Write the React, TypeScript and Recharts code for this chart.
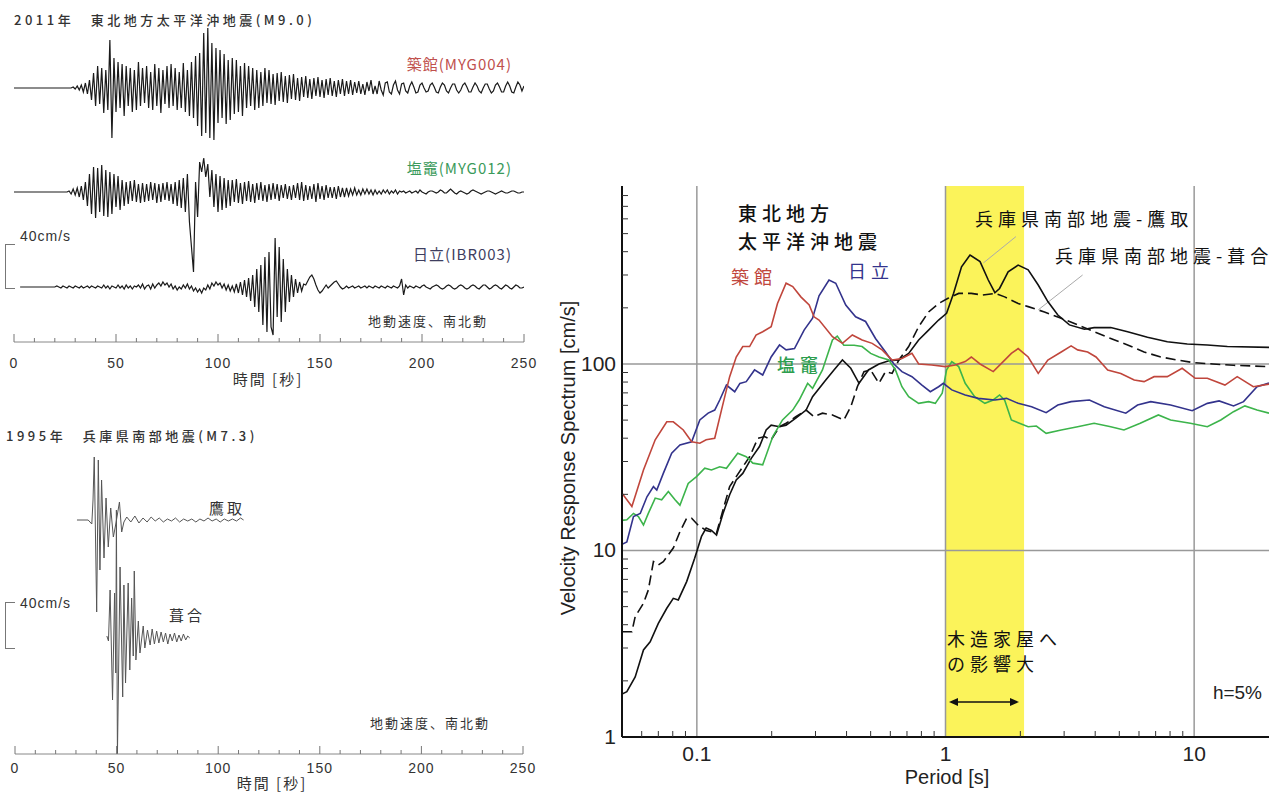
import React from 'react';
import { LineChart, Line, XAxis, YAxis, ReferenceLine, ReferenceArea } from 'recharts';

// ---------- velocity response spectra (period [s] / velocity [cm/s]) ----------
const tsukidatePeriod = [0.05, 0.0548, 0.061, 0.068, 0.0757, 0.0804, 0.0882, 0.0953, 0.1028, 0.109, 0.118, 0.1256, 0.1355, 0.144, 0.153, 0.163, 0.173, 0.184, 0.199, 0.211, 0.2285, 0.243, 0.262, 0.283, 0.296, 0.31, 0.351, 0.385, 0.422, 0.462, 0.507, 0.556, 0.61, 0.668, 0.733, 0.78, 0.881, 1.0, 1.094, 1.2, 1.27, 1.377, 1.556, 1.706, 1.84, 1.96, 2.15, 2.36, 2.58, 2.92, 3.2, 3.4, 3.73, 4.03, 4.49, 5.07, 5.74, 6.29, 6.9, 7.8, 8.95, 10.1, 11.3, 13.3, 14.9, 17.3, 20];
const tsukidateVel = [20.3, 17.2, 27, 39.2, 49, 49, 44.3, 38.3, 37.6, 39.2, 40, 56.6, 85.5, 109, 124, 124, 143, 149, 158.5, 211, 271, 260, 229, 207, 179, 172, 140, 129, 143, 134.5, 129, 119, 105, 107, 114, 100, 98.8, 96.8, 98.8, 103, 109, 100, 91, 103, 114, 121, 109, 89, 105, 116, 125, 119, 116, 109, 92.9, 89, 82, 80.4, 85.5, 85.5, 94.8, 83.8, 83.8, 77.1, 85.5, 75.5, 78];

const hitachiPeriod = [0.05, 0.0523, 0.0556, 0.0592, 0.063, 0.0669, 0.069, 0.0733, 0.0792, 0.0855, 0.0953, 0.1028, 0.111, 0.118, 0.1236, 0.1315, 0.142, 0.149, 0.158, 0.1706, 0.184, 0.199, 0.215, 0.2285, 0.247, 0.27, 0.292, 0.31, 0.34, 0.362, 0.397, 0.435, 0.477, 0.523, 0.574, 0.62, 0.668, 0.733, 0.804, 0.869, 0.938, 0.98, 1.06, 1.2, 1.355, 1.58, 1.76, 1.96, 2.22, 2.54, 2.83, 3.2, 3.79, 4.35, 5.31, 5.92, 6.69, 8.04, 9.82, 11.3, 12.6, 14.4, 15.8, 17.9, 20];
const hitachiVel = [10.8, 11.1, 15.2, 15.8, 19.4, 22, 21.1, 25.9, 33.2, 36.8, 38.3, 50.1, 54.5, 56.6, 64.1, 77.1, 71, 78.7, 80.4, 92.9, 87.3, 109, 126.5, 119, 121, 152, 176, 232, 282, 271, 207, 179, 169, 137, 116, 100, 91, 85.5, 77.1, 71, 75.5, 78.8, 72.6, 68.2, 65.4, 64.1, 65.4, 61.5, 59, 54.8, 60.2, 62.8, 64.1, 59, 54.5, 60.2, 62.8, 60.2, 56.2, 61.5, 63.4, 59.6, 62.8, 75.5, 79];

const shiogamaPeriod = [0.05, 0.0523, 0.0556, 0.0582, 0.061, 0.0638, 0.068, 0.0722, 0.0768, 0.0817, 0.0855, 0.0923, 0.0997, 0.1076, 0.1145, 0.1236, 0.1315, 0.146, 0.158, 0.168, 0.184, 0.202, 0.221, 0.243, 0.258, 0.279, 0.292, 0.32, 0.351, 0.367, 0.39, 0.429, 0.462, 0.5, 0.54, 0.592, 0.629, 0.668, 0.711, 0.78, 0.855, 0.91, 0.97, 1.01, 1.06, 1.13, 1.2, 1.31, 1.44, 1.556, 1.65, 1.73, 1.84, 2.15, 2.32, 2.54, 2.92, 3.4, 3.96, 4.62, 5.22, 6.07, 7.18, 8.04, 9.65, 11.3, 12.8, 14.4, 16.0, 17.9, 20];
const shiogamaVel = [14.5, 14.6, 15.8, 15.2, 13.7, 15.8, 19.1, 18.7, 20.7, 18.7, 17.5, 22.9, 24.9, 27.6, 27, 28.1, 27.6, 33.2, 31.8, 29.4, 28.8, 40.8, 50.1, 56.6, 64.1, 78.8, 74, 92.9, 134.5, 141, 126, 126, 124, 114, 109, 105, 92.9, 75.5, 66.8, 61.5, 62.8, 61.5, 69.7, 92.9, 103, 96.8, 78.8, 66.8, 61.5, 64.1, 68.2, 64, 50.1, 46.1, 46.5, 42.5, 44.3, 46.1, 48.1, 46.1, 44.3, 48.1, 53.3, 50.1, 48.1, 46.1, 50.1, 55.5, 59.6, 56.6, 54.5];

const takatoriPeriod = [0.05, 0.0523, 0.0565, 0.061, 0.0649, 0.07, 0.0757, 0.0804, 0.0842, 0.091, 0.098, 0.1044, 0.109, 0.1145, 0.12, 0.1274, 0.1355, 0.144, 0.153, 0.1655, 0.1786, 0.19, 0.199, 0.215, 0.2285, 0.25, 0.275, 0.292, 0.33, 0.356, 0.385, 0.416, 0.449, 0.49, 0.54, 0.592, 0.649, 0.711, 0.78, 0.855, 0.938, 1.01, 1.077, 1.16, 1.255, 1.377, 1.486, 1.58, 1.65, 1.786, 1.96, 2.15, 2.36, 2.58, 2.83, 3.15, 3.62, 3.96, 4.62, 5.4, 6.49, 7.8, 9.38, 11.3, 13.6, 20];
const takatoriVel = [1.7, 1.75, 2.1, 2.93, 3.24, 4.07, 4.9, 5.54, 5.43, 6.81, 9.08, 11.9, 13.2, 12.8, 12.1, 15.8, 19.9, 23.9, 25.9, 31.2, 36.1, 44.3, 47, 46.1, 47, 51.2, 56.6, 66.8, 82, 92.9, 105, 94.8, 78.8, 92.9, 100, 104, 105, 114, 134.5, 152, 172, 187, 239, 332, 384, 354, 282, 241, 254, 312, 339, 320, 265, 216, 183, 162, 153.6, 156.6, 157, 149, 139, 131.7, 128, 126.5, 124, 122.8];

const fukiaiPeriod = [0.05, 0.0548, 0.0565, 0.061, 0.0638, 0.0669, 0.07, 0.0733, 0.0804, 0.0855, 0.091, 0.0953, 0.101, 0.109, 0.12, 0.1274, 0.1355, 0.144, 0.153, 0.163, 0.176, 0.187, 0.199, 0.215, 0.2285, 0.25, 0.275, 0.296, 0.32, 0.351, 0.39, 0.416, 0.442, 0.47, 0.5, 0.54, 0.574, 0.61, 0.649, 0.711, 0.78, 0.855, 0.938, 1.024, 1.13, 1.27, 1.41, 1.58, 1.73, 1.96, 2.15, 2.5, 2.92, 3.4, 3.96, 4.62, 5.4, 6.29, 7.34, 8.55, 9.96, 11.9, 14.4, 20];
const fukiaiVel = [3.67, 3.67, 4.42, 5.21, 6.14, 8.71, 8.36, 8.71, 10.3, 12.6, 14.9, 14.9, 13.7, 12.8, 12.4, 16.5, 22, 24.9, 28.1, 31.8, 40, 40.8, 39.2, 46.1, 48.1, 52.1, 56.6, 52.1, 54.5, 53.3, 50.1, 59, 75.5, 91, 92.9, 78.8, 91, 89, 105, 124, 158.5, 190, 211, 225, 239, 239, 234, 239, 229, 211, 203, 190, 176, 162, 149, 137, 126.5, 116, 109, 105, 101.6, 100, 98.4, 96.8];

const periodTicks = [0.06, 0.07, 0.08, 0.09, 0.1, 0.2, 0.3, 0.4, 0.5, 0.6, 0.7, 0.8, 0.9, 1, 2, 3, 4, 5, 6, 7, 8, 9, 10];
const periodLabels = [0.1, 1, 10];
const velTicks = [1, 2, 3, 4, 5, 6, 7, 8, 9, 10, 20, 30, 40, 50, 60, 70, 80, 90, 100, 200, 300, 400, 500, 600, 700, 800];
const velLabels = [1, 10, 100];

// ---------- ground velocity records, N-S [cm/s] ----------
// 2011 records sampled every second from the given start time
const myg004Start = 28;
const myg004Wave = [
  0, 1, -1, 2, -2, 3, -4, 5, -6, 8,
  -12, 15, -18, 22, -16, 20, -25, 18, -22, 48,
  -50, 30, -24, 26, -20, 24, -28, 22, -18, 20,
  -24, 18, -22, 26, -18, 20, -15, 22, -20, 16,
  -22, 24, -18, 20, -25, 18, -16, 22, -20, 24,
  -18, 20, -22, 16, -20, 25, -24, 18, -28, 26,
  -30, 32, -38, 35, -48, 55, -45, 60, -50, 45,
  -52, 40, -35, 38, -30, 34, -36, 28, -32, 30,
  -26, 28, -24, 22, -28, 25, -20, 22, -18, 20,
  -22, 18, -20, 16, -18, 20, -15, 18, -16, 14,
  -17, 15, -13, 16, -14, 12, -15, 13, -11, 14,
  -12, 10, -13, 11, -9, 12, -10, 9, -11, 10,
  -8, 11, -9, 8, -10, 9, -7, 10, -8, 7,
  -9, 8, -6, 9, -8, 7, -6, 8, -7, 6,
  -5, 7, -6, 4, -7, 6, -3, 8, -6, 2,
  -6, 7, -2, -7, 5, 6, -4, -6, 3, 7,
  -2, -6, 4, 5, -3, -5, 2, 6, 1, -5,
  -4, 3, 5, 0, -4, -3, 3, 5, 1, -4,
  -5, 1, 5, 3, -3, -5, 0, 4, 4, -2,
  -5, -2, 3, 5, 1, -4, -4, 1, 5, 2,
  -3, -5, 0, 4, 4, -1, -5, -3, 3, 5,
  1, -4, -4, 2, 6, 2, -4, -5, 1, 6,
  3, -3, 2,
];

const myg012Start = 26;
const myg012Wave = [
  0, 1, -2, 3, -3, 4, -5, 6, -8, 10,
  -14, 18, -22, 25, -26, 24, -20, 27, -24, 22,
  -25, 20, -22, 18, -15, 16, -18, 12, -14, 10,
  -12, 11, -9, 12, -10, 8, -11, 9, -10, 8,
  -9, 10, -8, 9, -11, 8, -10, 9, -8, 10,
  -9, 8, -12, 10, -14, 12, -16, 14, -20, 18,
  -30, -55, -80, 10, -25, 30, 20, 34, 15, 28,
  -5, 22, -15, 18, -20, 16, -18, 14, -16, 12,
  -14, 12, -10, 13, -11, 9, -12, 10, -9, 11,
  -10, 8, -11, 9, -8, 10, -9, 7, -10, 8,
  -8, 9, -7, 8, -9, 7, -6, 8, -7, 6,
  -8, 7, -6, 9, -8, 10, -9, 7, -8, 6,
  -7, 8, -10, 9, -7, 6, -8, 7, -6, 5,
  -6, 5, -7, 6, -5, 4, -5, 4, -4, 3,
  -3, 4, -3, 2, -3, 3, -2, 3, -2, 2,
  -3, 2, -2, 1, -2, 2, -1, 2, -2, 1,
  -1, 2, -2, 1, 0, 1, -1, 0, 1, -1,
  0, 1, -1, 2, 0, -1, -2, 0, 1, 1,
  0, -1, 0, 2, 1, -1, -1, 1, 3, 1,
  -1, -2, 0, 1, 0, -1, -2, -1, 1, 2,
  1, 0, -1, -2, -1, 0, 1, 1, 0, -1,
  -2, -1, 0, 1, 0, -1, -1, 0, 1, 1,
  0, -1, -1, 0, 0,
];

const ibr003Start = 20;
const ibr003Wave = [
  0, 1, 0, -1, 1, 0, -1, 1, 0, -1,
  1, 0, -1, 1, -1, 0, 1, -1, 1, 0,
  -1, 1, 0, -1, 2, -1, 1, -2, 1, 0,
  -1, 2, -1, 1, -2, 2, -1, 1, -2, 1,
  0, 2, -1, 3, -2, 1, 2, -2, 3, -1,
  2, 4, 1, 5, 2, 4, 0, 3, -2, 1,
  -3, 0, -2, 2, -1, 3, -2, 1, -4, -1,
  -5, -2, -6, -1, -3, 2, -2, 4, 1, 5,
  2, 4, -1, 3, -3, 2, -4, 1, -5, 3,
  -6, 5, -8, 7, -10, 9, -14, 12, -20, 18,
  -25, 22, -38, 30, -45, 35, -40, -48, 49, -30,
  40, -35, 28, -25, 18, -15, 12, -10, 8, -6,
  5, -4, 3, 2, 6, 10, 12, 8, 2, -3,
  -6, -4, -1, 2, -1, 1, 3, 5, 6, 3,
  0, -2, -1, 1, -1, 0, 1, -1, 0, 1,
  -1, 0, 1, -1, 1, 0, -1, 1, 0, -1,
  1, 0, -1, 1, 0, -1, 1, 0, -1, 1,
  8, -8, 2, -1, 1, 0, -1, 1, 0, -1,
  1, 2, 0, -1, -2, 0, 1, 2, 1, -1,
  -2, -1, 1, 2, 1, -1, -2, -1, 1, 2,
  1, -1, -2, -1, 1, 2, 1, -1, -2, 0,
  2, 2, 0, -2, -1, 1, 2, 1, -1, -2,
  0, 2, 1, -1, -2, 0, 2, 1, -1, -1,
  0,
];

// 1995 records (time [s] / velocity [cm/s])
const takatoriWaveTime = [30.5, 36, 37.8, 38.4, 39, 40.2, 41, 41.8, 42.6, 43.8, 44.8, 45.9, 47.1, 48.4, 49.7, 51.4, 52.5, 53.6, 55, 57, 59, 61, 63, 65, 67, 69, 71, 73, 75, 77, 79, 81, 83, 85, 87, 89, 91, 93, 95, 97, 99, 101, 103, 105, 107, 109, 111, 112.5];
const takatoriWave = [0, 0, -4, 20, 63, -92, 60, -50, 40, -38, 22, -27, 12, -17, -3, 18, -12, -2, 3, -2, 4, -3, 2, -2, 3, -1, 2, -2, 1, -1, 2, -2, 1, -1, 1, -2, 1, -1, 2, -1, 1, -2, 1, -1, 1, -1, 2, 0];

const fukiaiWaveTime = [45.2, 46, 46.8, 48, 49, 49.6, 49.9, 50.4, 51.7, 53, 53.6, 54.4, 55.7, 56.5, 57.4, 58.2, 58.7, 59.5, 60.7, 61.5, 63.1, 63.9, 65.2, 66.5, 67.5, 68.6, 69.7, 70.8, 71.9, 73, 74.1, 75.2, 76.3, 77.4, 78.5, 79.6, 80.7, 81.8, 82.9, 84, 85, 86];
const fukiaiWave = [2, -3, 48, -62, 45, -35, 128, -118, 71, -59, 53, -45, 55, -32, 40, -18, 67, -22, 17, -15, 12, -10, 8, -7, 9, -6, 7, -5, 6, -4, 5, -6, 4, -3, 5, -4, 3, -3, 4, -2, 2, 0];

const timeTicks = [0, 10, 20, 30, 40, 50, 60, 70, 80, 90, 100, 110, 120, 130, 140, 150, 160, 170, 180, 190, 200, 210, 220, 230, 240, 250];

const spectrum = (ps: number[], vs: number[]) => ps.map((p, i) => ({ p, v: vs[i] }));
const sampled = (first: number, start: number, vs: number[]) => [{ t: first, v: 0 }, ...vs.map((v, i) => ({ t: start + i, v }))];
const timed = (ts: number[], vs: number[]) => ts.map((t, i) => ({ t, v: vs[i] }));

// zero of each trace sits on its baseline; 1 px per cm/s
const traceDomain = (baseline: number, top: number, bottom: number) => [-(bottom - baseline), baseline - top];

const JP = '"Noto Sans CJK JP", sans-serif';
const SANS = '"Liberation Sans", Arial, sans-serif';

function Txt({ x, y, children, style, anchor = 'start' }: any) {
  const tx = anchor === 'end' ? '-100%' : anchor === 'middle' ? '-50%' : '0';
  return (
    <div style={{ position: 'absolute', left: x, top: y, transform: `translate(${tx}, -50%)`, whiteSpace: 'nowrap', lineHeight: 1, ...style }}>
      {children}
    </div>
  );
}

function Bracket({ top, bottom }: { top: number; bottom: number }) {
  return (
    <div style={{ position: 'absolute', left: 5, top, width: 9, height: bottom - top, borderLeft: '1px solid #777', borderTop: '1px solid #777', borderBottom: '1px solid #777' }} />
  );
}

const timeTick = (dy: number) => (props: any) => {
  const { x, y, payload } = props;
  const major = payload.value % 50 === 0;
  return (
    <g>
      <line x1={x} x2={x} y1={y} y2={y - (major ? 8 : 4)} stroke="#777" />
      {major && (
        <text x={x} y={y + dy} textAnchor="middle" fontSize={14} fill="#333" fontFamily={SANS} letterSpacing={1}>
          {payload.value}
        </text>
      )}
    </g>
  );
};

const bottomTick = (props: any) => {
  const { x, y, payload } = props;
  const label = periodLabels.includes(payload.value);
  return (
    <g>
      {!label && <line x1={x} x2={x} y1={y} y2={y - 6} stroke="#333" />}
      {label && (
        <text x={x} y={y + 24} textAnchor="middle" fontSize={21} fill="#222" fontFamily={SANS}>
          {payload.value}
        </text>
      )}
    </g>
  );
};
const topTick = (props: any) => {
  const { x, y, payload } = props;
  if (periodLabels.includes(payload.value)) return <g />;
  return <line x1={x} x2={x} y1={y} y2={y + 6} stroke="#333" />;
};
const leftTick = (props: any) => {
  const { x, y, payload } = props;
  const label = velLabels.includes(payload.value);
  return (
    <g>
      {!label && <line x1={x} x2={x + 6} y1={y} y2={y} stroke="#333" />}
      {label && (
        <text x={x - 6} y={y + 7} textAnchor="end" fontSize={21} fill="#222" fontFamily={SANS}>
          {payload.value}
        </text>
      )}
    </g>
  );
};
const rightTick = (props: any) => {
  const { x, y, payload } = props;
  if (velLabels.includes(payload.value)) return <g />;
  return <line x1={x} x2={x - 6} y1={y} y2={y} stroke="#333" />;
};

function TohokuWaves() {
  const top = 20;
  const bottom = 342;
  return (
    <div style={{ position: 'absolute', left: 0, top: 0 }}>
      <LineChart width={560} height={400} margin={{ top: 20, right: 36, bottom: 28, left: 14 }}>
        <XAxis dataKey="t" type="number" domain={[0, 250]} allowDataOverflow ticks={timeTicks} interval={0}
          tickSize={0} tickMargin={0} height={30} axisLine={{ stroke: '#888' }} tick={timeTick(26)} />
        <YAxis yAxisId="a" hide type="number" domain={traceDomain(88, top, bottom)} allowDataOverflow />
        <YAxis yAxisId="b" hide type="number" domain={traceDomain(192, top, bottom)} allowDataOverflow />
        <YAxis yAxisId="c" hide type="number" domain={traceDomain(287, top, bottom)} allowDataOverflow />
        <Line yAxisId="a" data={sampled(0, myg004Start, myg004Wave)} dataKey="v" stroke="#1a1a1a" strokeWidth={1.2} dot={false} isAnimationActive={false} />
        <Line yAxisId="b" data={sampled(0, myg012Start, myg012Wave)} dataKey="v" stroke="#1a1a1a" strokeWidth={1.2} dot={false} isAnimationActive={false} />
        <Line yAxisId="c" data={sampled(3, ibr003Start, ibr003Wave)} dataKey="v" stroke="#1a1a1a" strokeWidth={1.2} dot={false} isAnimationActive={false} />
      </LineChart>
    </div>
  );
}

function HyogoWaves() {
  const top = 440;
  const bottom = 754;
  return (
    <div style={{ position: 'absolute', left: 0, top: 400 }}>
      <LineChart width={560} height={395} margin={{ top: 40, right: 37, bottom: 11, left: 15 }}>
        <XAxis dataKey="t" type="number" domain={[0, 250]} allowDataOverflow ticks={timeTicks} interval={0}
          tickSize={0} tickMargin={0} height={30} axisLine={{ stroke: '#888' }} tick={timeTick(19)} />
        <YAxis yAxisId="a" hide type="number" domain={traceDomain(520, top, bottom)} allowDataOverflow />
        <YAxis yAxisId="b" hide type="number" domain={traceDomain(638, top, bottom)} allowDataOverflow />
        <Line yAxisId="a" data={timed(takatoriWaveTime, takatoriWave)} dataKey="v" stroke="#555" strokeWidth={1} dot={false} isAnimationActive={false} />
        <Line yAxisId="b" data={timed(fukiaiWaveTime, fukiaiWave)} dataKey="v" stroke="#555" strokeWidth={1} dot={false} isAnimationActive={false} />
      </LineChart>
    </div>
  );
}

function SpectrumChart() {
  const lineProps = { dataKey: 'v', dot: false, isAnimationActive: false, type: 'linear' as const };
  return (
    <div style={{ position: 'absolute', left: 540, top: 170 }}>
      <LineChart width={733} height={625} margin={{ top: 16, right: 4, bottom: 28, left: 42 }}>
        <XAxis dataKey="p" type="number" scale="log" domain={[0.05, 20]} allowDataOverflow ticks={periodTicks} interval={0}
          tickSize={0} tickMargin={0} height={30} axisLine={{ stroke: '#111', strokeWidth: 2 }} tick={bottomTick} />
        <XAxis xAxisId="top" orientation="top" type="number" scale="log" domain={[0.05, 20]} allowDataOverflow ticks={periodTicks} interval={0}
          tickSize={0} tickMargin={0} height={0} axisLine={{ stroke: '#111', strokeWidth: 2 }} tick={topTick} />
        <YAxis type="number" scale="log" domain={[1, 900]} allowDataOverflow ticks={velTicks} interval={0}
          tickSize={0} tickMargin={0} width={40} axisLine={{ stroke: '#111', strokeWidth: 2 }} tick={leftTick} />
        <YAxis yAxisId="right" orientation="right" type="number" scale="log" domain={[1, 900]} allowDataOverflow ticks={velTicks} interval={0}
          tickSize={0} tickMargin={0} width={0} axisLine={{ stroke: '#111', strokeWidth: 2 }} tick={rightTick} />

        {periodLabels.map((p) => (
          <ReferenceLine key={'x' + p} x={p} stroke="#999" strokeWidth={1.5} />
        ))}
        <ReferenceLine y={10} stroke="#999" strokeWidth={1.5} />
        <ReferenceLine y={100} stroke="#999" strokeWidth={1.5} />
        <ReferenceArea x1={1} x2={2.07} fill="#fbf35a" fillOpacity={1} stroke="none" />

        <ReferenceLine segment={[{ x: 1.92, y: 482 }, { x: 1.42, y: 348 }]} stroke="#aaa" strokeWidth={1} />
        <ReferenceLine segment={[{ x: 3.56, y: 300 }, { x: 2.36, y: 195 }]} stroke="#aaa" strokeWidth={1} />

        <Line {...lineProps} data={spectrum(fukiaiPeriod, fukiaiVel)} stroke="#111" strokeWidth={1.6} strokeDasharray="10 5" />
        <Line {...lineProps} data={spectrum(takatoriPeriod, takatoriVel)} stroke="#111" strokeWidth={1.6} />
        <Line {...lineProps} data={spectrum(shiogamaPeriod, shiogamaVel)} stroke="#3cb44b" strokeWidth={1.6} />
        <Line {...lineProps} data={spectrum(hitachiPeriod, hitachiVel)} stroke="#33338c" strokeWidth={1.6} />
        <Line {...lineProps} data={spectrum(tsukidatePeriod, tsukidateVel)} stroke="#c0463c" strokeWidth={1.6} />
      </LineChart>
    </div>
  );
}

export default function App() {
  const jpSmall = { fontFamily: JP, fontSize: 13, color: '#333', letterSpacing: 3.5 };
  const spec = { fontFamily: JP, fontSize: 18, letterSpacing: 5, color: '#111' };
  const tohoku = { fontFamily: JP, fontSize: 19, fontWeight: 500, letterSpacing: 5, color: '#111' };
  return (
    <div style={{ position: 'absolute', left: 0, top: 0, width: 1273, height: 795, background: '#fff', overflow: 'hidden', fontFamily: SANS }}>
      <TohokuWaves />
      <HyogoWaves />
      <SpectrumChart />

      {/* 2011 panel */}
      <Txt x={14} y={19} style={{ ...jpSmall, fontWeight: 500 }}>2011年　東北地方太平洋沖地震(M9.0)</Txt>
      <Txt x={512} y={63} anchor="end" style={{ fontFamily: JP, fontSize: 15, letterSpacing: 1, color: '#c0504d' }}>築館(MYG004)</Txt>
      <Txt x={512} y={167} anchor="end" style={{ fontFamily: JP, fontSize: 15, letterSpacing: 1, color: '#3a9a5a' }}>塩竈(MYG012)</Txt>
      <Txt x={512} y={253} anchor="end" style={{ fontFamily: JP, fontSize: 15, letterSpacing: 1, color: '#3e3e60' }}>日立(IBR003)</Txt>
      <Txt x={20} y={236} style={{ fontFamily: SANS, fontSize: 14, color: '#333', letterSpacing: 1 }}>40cm/s</Txt>
      <Bracket top={244} bottom={287} />
      <Txt x={488} y={320} anchor="end" style={{ ...jpSmall, letterSpacing: 2 }}>地動速度、南北動</Txt>
      <Txt x={268} y={378} anchor="middle" style={{ fontFamily: JP, fontSize: 15, color: '#333', letterSpacing: 2 }}>時間 [秒]</Txt>

      {/* 1995 panel */}
      <Txt x={6} y={435} style={{ ...jpSmall, fontWeight: 500 }}>1995年　兵庫県南部地震(M7.3)</Txt>
      <Txt x={245} y={507} anchor="end" style={{ fontFamily: JP, fontSize: 15, letterSpacing: 3, color: '#333' }}>鷹取</Txt>
      <Txt x={187} y={614} anchor="middle" style={{ fontFamily: JP, fontSize: 15, letterSpacing: 3, color: '#333' }}>葺合</Txt>
      <Txt x={20} y={603} style={{ fontFamily: SANS, fontSize: 14, color: '#333', letterSpacing: 1 }}>40cm/s</Txt>
      <Bracket top={602} bottom={647} />
      <Txt x={490} y={722} anchor="end" style={{ ...jpSmall, letterSpacing: 2 }}>地動速度、南北動</Txt>
      <Txt x={272} y={782} anchor="middle" style={{ fontFamily: JP, fontSize: 15, color: '#333', letterSpacing: 2 }}>時間 [秒]</Txt>

      {/* spectrum annotations */}
      <Txt x={738} y={212} style={tohoku}>東北地方</Txt>
      <Txt x={738} y={240} style={tohoku}>太平洋沖地震</Txt>
      <Txt x={731} y={276} style={{ ...spec, color: '#c0463c' }}>築館</Txt>
      <Txt x={848} y={270} style={{ ...spec, color: '#33338c' }}>日立</Txt>
      <Txt x={777} y={364} style={{ ...spec, color: '#2e9e4f', fontWeight: 500 }}>塩竈</Txt>
      <Txt x={975} y={218} style={spec}>兵庫県南部地震-鷹取</Txt>
      <Txt x={1055} y={255} style={spec}>兵庫県南部地震-葺合</Txt>
      <Txt x={947} y={638} style={spec}>木造家屋へ</Txt>
      <Txt x={947} y={663} style={spec}>の影響大</Txt>
      <Txt x={1262} y={692} anchor="end" style={{ fontFamily: SANS, fontSize: 19, color: '#222' }}>h=5%</Txt>
      <Txt x={568} y={458} anchor="middle" style={{ fontFamily: SANS, fontSize: 20, color: '#222', transform: 'translate(-50%, -50%) rotate(-90deg)' }}>
        Velocity Response Spectrum [cm/s]
      </Txt>
      <Txt x={947} y={777} anchor="middle" style={{ fontFamily: SANS, fontSize: 20, color: '#222' }}>Period [s]</Txt>

      <svg width={1273} height={795} style={{ position: 'absolute', left: 0, top: 0, pointerEvents: 'none' }}>
        <line x1={956} x2={1012} y1={702} y2={702} stroke="#111" strokeWidth={1.5} />
        <polygon points="949,702 958,698 958,706" fill="#111" />
        <polygon points="1019,702 1010,698 1010,706" fill="#111" />
      </svg>
    </div>
  );
}
